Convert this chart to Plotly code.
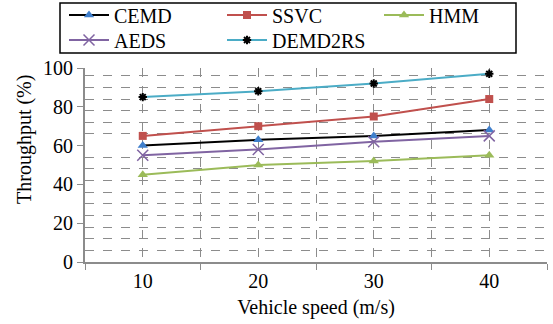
import plotly.graph_objects as go

speeds = [10, 20, 30, 40]
cemd = [60, 63, 65, 68]
ssvc = [65, 70, 75, 84]
hmm = [45, 50, 52, 55]
aeds = [55, 58, 62, 65]
demd2rs = [85, 88, 92, 97]

FONT = "Liberation Serif"

fig = go.Figure()
fig.add_trace(go.Scatter(x=speeds, y=cemd, name="CEMD", mode="lines+markers", legend="legend",
                         line=dict(color="black", width=2),
                         marker=dict(symbol="triangle-up", size=9, color="#3f7fcc")))
fig.add_trace(go.Scatter(x=speeds, y=ssvc, name="SSVC", mode="lines+markers", legend="legend",
                         line=dict(color="#c0504d", width=2),
                         marker=dict(symbol="square", size=8, color="#c0504d")))
fig.add_trace(go.Scatter(x=speeds, y=hmm, name="HMM", mode="lines+markers", legend="legend3",
                         line=dict(color="#9bbb59", width=2),
                         marker=dict(symbol="triangle-up", size=9, color="#9bbb59")))
fig.add_trace(go.Scatter(x=speeds, y=aeds, name="AEDS", mode="lines+markers", legend="legend2",
                         line=dict(color="#8064a2", width=2),
                         marker=dict(symbol="x-thin-open", size=11, color="#8064a2",
                                     line=dict(color="#8064a2", width=1.5))))
fig.add_trace(go.Scatter(x=speeds, y=demd2rs, name="DEMD2RS", mode="lines+markers", legend="legend2",
                         line=dict(color="#4bacc6", width=2),
                         marker=dict(symbol="asterisk-open", size=7, color="black",
                                     line=dict(color="black", width=2))))

L, R, T, B = 85, 547, 68, 262
W, H = R - L, B - T

def px_x(p):
    return (p - L) / W

def px_y(p):
    return (B - p) / H

leg_common = dict(orientation="h", xref="container", yref="container",
                  xanchor="left", yanchor="middle",
                  entrywidth=103, entrywidthmode="pixels",
                  borderwidth=0, bgcolor="rgba(0,0,0,0)",
                  font=dict(family=FONT, size=20), tracegroupgap=0,
                  itemwidth=40)

fig.update_layout(
    width=553, height=324,
    margin=dict(l=L, r=553 - R, t=T, b=324 - B, autoexpand=False),
    paper_bgcolor="white", plot_bgcolor="white",
    font=dict(family=FONT, size=20, color="black"),
    showlegend=True,
    legend=dict(leg_common, x=64 / 553, y=1 - 15 / 324),
    legend3=dict(leg_common, x=379 / 553, y=1 - 15 / 324),
    legend2=dict(leg_common, x=64 / 553, y=1 - 40 / 324),
    shapes=[dict(type="rect", xref="paper", yref="paper",
                 x0=px_x(60), x1=px_x(516), y0=px_y(53), y1=px_y(3),
                 line=dict(color="black", width=1.5), layer="above")],
    annotations=[dict(text="Throughput (%)", xref="paper", yref="paper",
                      x=px_x(24), y=px_y(140), xanchor="center", yanchor="middle",
                      textangle=-90, showarrow=False,
                      font=dict(family=FONT, size=20, color="black"))],
    xaxis=dict(range=[5, 45], tickmode="array", tickvals=speeds,
               ticktext=[str(s) for s in speeds], ticks="",
               showgrid=True, gridcolor="#8c8c8c", griddash="dash", gridwidth=1,
               showline=True, linecolor="#8c8c8c", linewidth=2,
               zeroline=False,
               minor=dict(tickvals=[5, 15, 25, 35, 45], ticks="outside", ticklen=6,
                          tickcolor="#8c8c8c", showgrid=True, gridcolor="#8c8c8c",
                          griddash="dash", gridwidth=1),
               title=dict(text="Vehicle speed (m/s)", standoff=9, font=dict(size=20)),
               tickfont=dict(size=20)),
    yaxis=dict(range=[0, 100], tickmode="linear", tick0=0, dtick=20,
               ticks="outside", ticklen=6, tickcolor="#8c8c8c",
               showgrid=False, showline=True, linecolor="#8c8c8c", linewidth=2,
               zeroline=False,
               minor=dict(tick0=0, dtick=6, ticks="", showgrid=True,
                          gridcolor="#8c8c8c", griddash="dash", gridwidth=1),
               tickfont=dict(size=20)),
)

fig.write_html("out.html")
